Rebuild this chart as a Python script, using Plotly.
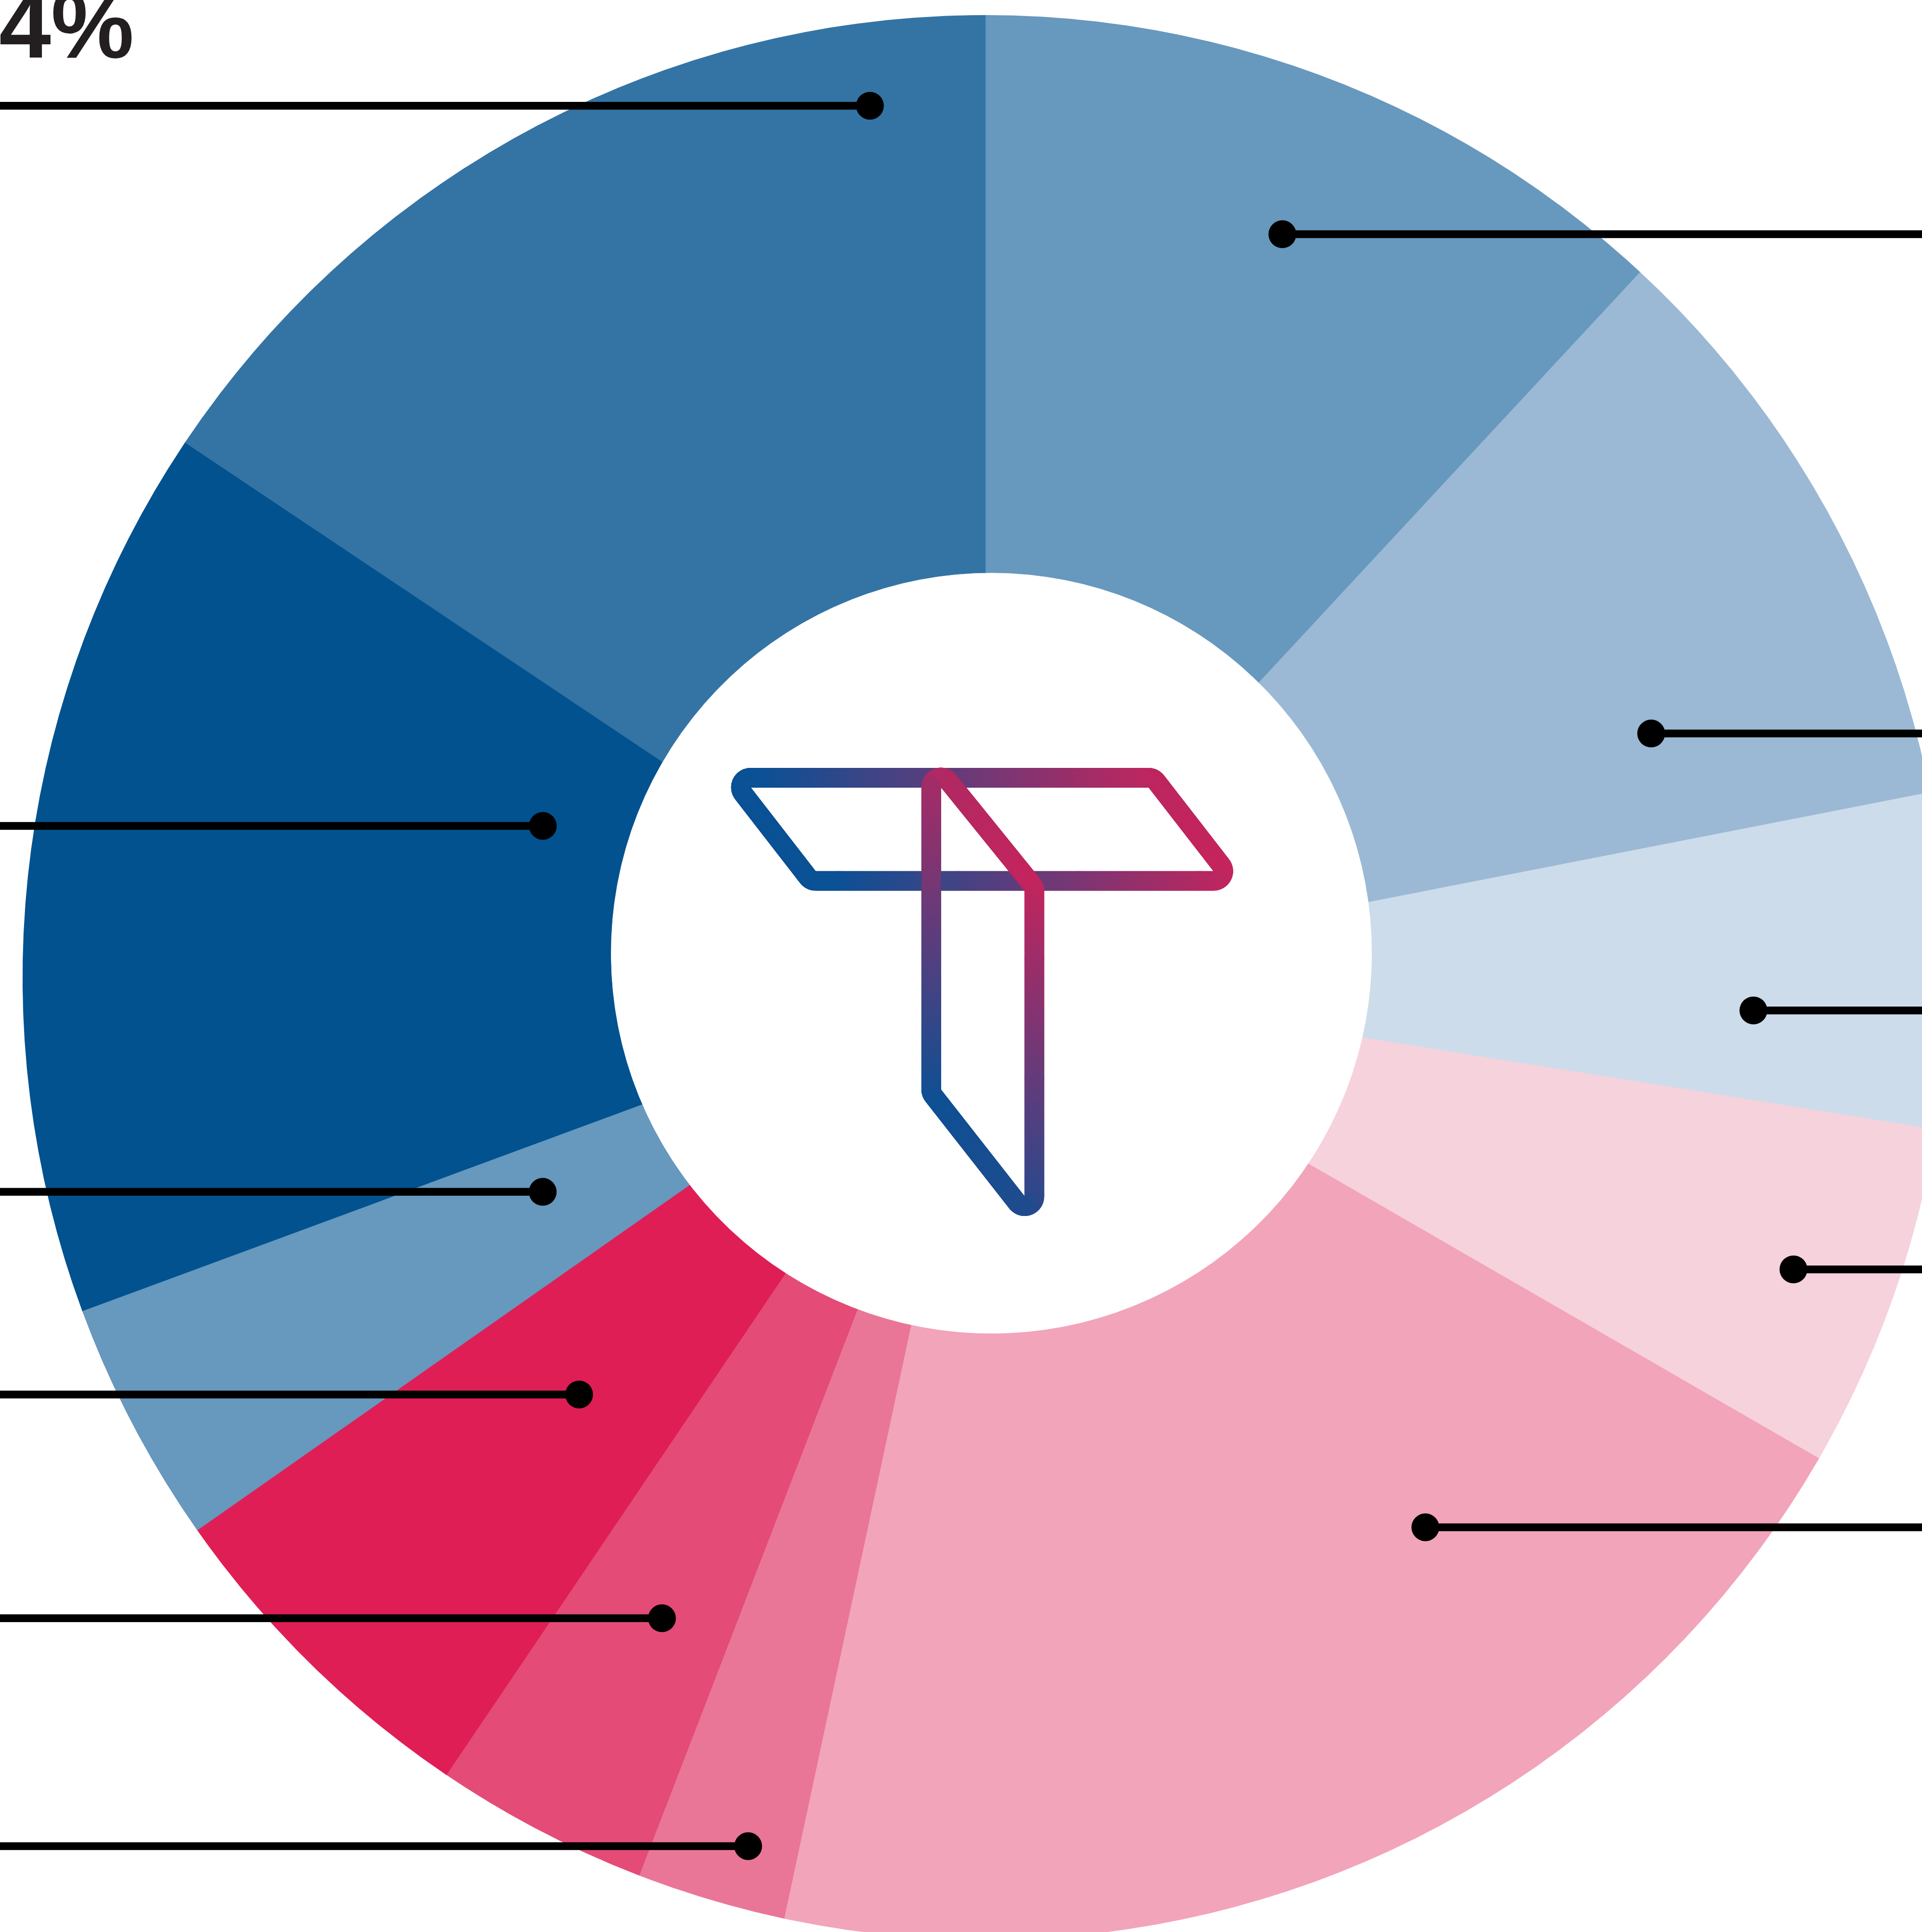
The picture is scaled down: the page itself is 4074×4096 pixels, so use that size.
import numpy as np
import plotly.graph_objects as go

# ---------------- data ----------------
segments = [
    "Segment 1", "Segment 2", "Segment 3", "Segment 4", "Segment 5", "Segment 6",
    "Segment 7", "Segment 8", "Segment 9", "Segment 10", "Segment 11",
]
shares = [11.9, 10.0, 5.6, 5.8, 20.0, 2.5, 3.6, 5.8, 4.1, 15.0, 15.6]
slice_colors = [
    "#6798bd", "#9bb9d4", "#cddcea", "#f6d2dd", "#f2a4ba", "#e97697",
    "#e44b77", "#df1e56", "#6798bd", "#02528f", "#3474a5",
]

# callout dot placement inside each slice: share of the slice sweep, share of the radius
callout_sweep = [0.508, 0.749, 0.671, 0.515, 0.296, 0.354, 0.438, 0.487, 0.622, 0.725, 0.866]
callout_radius = [0.832, 0.737, 0.799, 0.893, 0.732, 0.936, 0.746, 0.605, 0.511, 0.486, 0.914]

label_text = "4%"

# ---------------- canvas ----------------
W, H = 4074, 4096
X_RANGE = [-1.02381, 0.97344]      # pie radius = 1 unit, centre at (0, 0)
Y_RANGE = [-0.99222, 1.01603]
PX_PER_UNIT = W / (X_RANGE[1] - X_RANGE[0])

HOLE_CENTER = (0.0064, 0.0252)
HOLE_RADIUS = 0.3951

fig = go.Figure()

# ---------------- slices ----------------
total = float(sum(shares))
start = 0.0
slice_spans = []
for name, value, color in zip(segments, shares, slice_colors):
    sweep = 360.0 * value / total
    th = np.radians(np.linspace(start, start + sweep, max(int(sweep * 10), 3)))
    xs = np.concatenate([[0.0], np.sin(th), [0.0]])
    ys = np.concatenate([[0.0], np.cos(th), [0.0]])
    fig.add_trace(go.Scatter(
        x=xs, y=ys, mode="lines", fill="toself", fillcolor=color,
        line=dict(color=color, width=1.5), name=name, hoverinfo="skip",
    ))
    slice_spans.append((start, sweep))
    start += sweep

# white centre disc
t = np.linspace(0, 2 * np.pi, 1441)
fig.add_trace(go.Scatter(
    x=HOLE_CENTER[0] + HOLE_RADIUS * np.cos(t),
    y=HOLE_CENTER[1] + HOLE_RADIUS * np.sin(t),
    mode="lines", fill="toself", fillcolor="#ffffff",
    line=dict(color="#ffffff", width=1), hoverinfo="skip",
))

# ---------------- callouts ----------------
dot_x, dot_y = [], []
for (s0, sw), f, r in zip(slice_spans, callout_sweep, callout_radius):
    ang = np.radians(s0 + f * sw)
    x, y = r * np.sin(ang), r * np.cos(ang)
    edge = 1.3 if x > 0 else -1.3
    fig.add_trace(go.Scatter(
        x=[x, edge], y=[y, y], mode="lines",
        line=dict(color="#000000", width=16.5), hoverinfo="skip",
    ))
    dot_x.append(x)
    dot_y.append(y)

fig.add_trace(go.Scatter(
    x=dot_x, y=dot_y, mode="markers",
    marker=dict(size=59, color="#000000", line=dict(width=0)), hoverinfo="skip",
))

# ---------------- centre logo (gradient outline) ----------------
def rounded_outline(verts, radius, step):
    verts = np.asarray(verts, float)
    n = len(verts)
    pts = []
    for i in range(n):
        v, a, b = verts[i], verts[i - 1], verts[(i + 1) % n]
        u1 = (a - v) / np.linalg.norm(a - v)
        u2 = (b - v) / np.linalg.norm(b - v)
        half = np.arccos(np.clip(np.dot(u1, u2), -1, 1)) / 2
        d = radius / np.tan(half)
        p1, p2 = v + u1 * d, v + u2 * d
        bis = (u1 + u2) / np.linalg.norm(u1 + u2)
        c = v + bis * radius / np.sin(half)
        a1 = np.arctan2(p1[1] - c[1], p1[0] - c[0])
        a2 = np.arctan2(p2[1] - c[1], p2[0] - c[0])
        da = (a2 - a1 + np.pi) % (2 * np.pi) - np.pi
        angs = a1 + da * np.linspace(0, 1, 40)
        pts.extend(c + radius * np.column_stack([np.cos(angs), np.sin(angs)]))
    pts.append(pts[0])
    pts = np.array(pts)
    seg = np.hypot(*np.diff(pts, axis=0).T)
    s = np.concatenate([[0.0], np.cumsum(seg)])
    ss = np.arange(0.0, s[-1], step)
    return np.interp(ss, s, pts[:, 0]), np.interp(ss, s, pts[:, 1])


BLUE = np.array([10, 81, 149])
RED = np.array([220, 31, 86])


def ramp(tt):
    tt = np.clip(tt, 0, 1)
    out = []
    for k in tt:
        c = BLUE + (RED - BLUE) * k
        out.append("rgb(%d,%d,%d)" % tuple(np.round(c).astype(int)))
    return out


LOGO_BAR = [(-0.26438, 0.20765), (0.17473, 0.20765), (0.25783, 0.10041), (-0.18127, 0.10041)]
LOGO_STEM = [(-0.05618, 0.22633), (0.05105, 0.09373), (0.05105, -0.25687), (-0.05618, -0.11996)]
STROKE_PX = 41.6
CORNER = 0.01007
STEP = 1.2 / PX_PER_UNIT

bx, by = rounded_outline(LOGO_BAR, CORNER, STEP)
bar_cols = ramp(0.2309 + 2.118 * bx + 1.201 * by)
sx, sy = rounded_outline(LOGO_STEM, CORNER, STEP)
stem_cols = ramp(0.4901 + 3.713 * sx + 2.184 * sy)

for xs, ys, cols in ((bx, by, bar_cols), (sx, sy, stem_cols)):
    fig.add_trace(go.Scatter(
        x=xs, y=ys, mode="markers",
        marker=dict(size=STROKE_PX, color=cols, line=dict(width=0), opacity=1),
        hoverinfo="skip",
    ))

# ---------------- label ----------------
fig.add_annotation(
    text=label_text, xref="paper", yref="paper",
    x=286 / W, y=1 - 166 / H, xanchor="right", yanchor="bottom",
    showarrow=False,
    font=dict(family="Liberation Sans", size=198, color="#231f20", weight="bold"),
)

fig.update_layout(
    width=W, height=H,
    margin=dict(l=0, r=0, t=0, b=0),
    paper_bgcolor="#ffffff", plot_bgcolor="#ffffff",
    showlegend=False, hovermode=False,
    xaxis=dict(range=X_RANGE, visible=False, fixedrange=True),
    yaxis=dict(range=Y_RANGE, visible=False, fixedrange=True),
)

fig.write_html("out.html")
